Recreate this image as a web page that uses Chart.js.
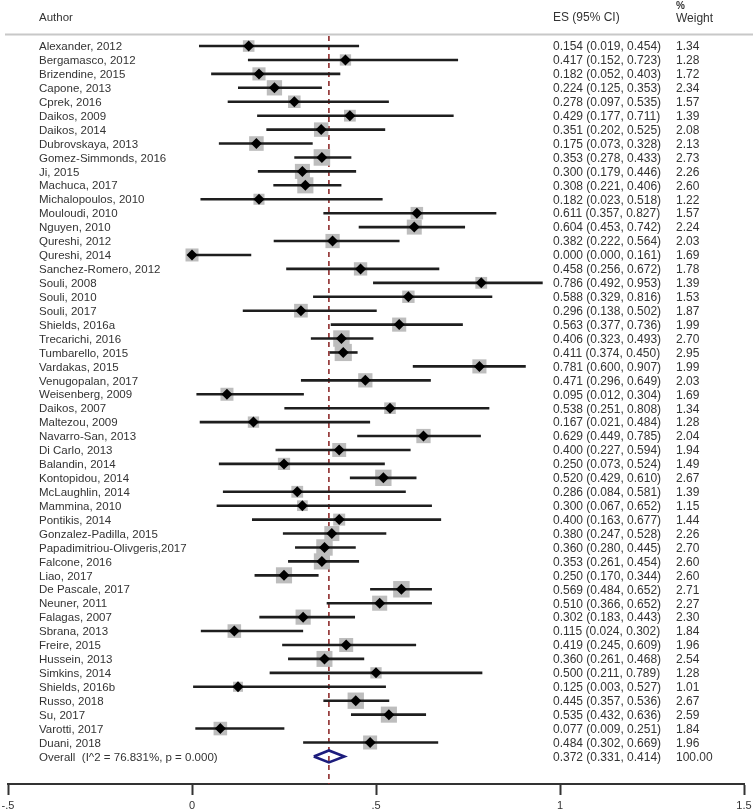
<!DOCTYPE html>
<html>
<head>
<meta charset="utf-8">
<script src="https://cdn.jsdelivr.net/npm/chart.js@4/dist/chart.umd.min.js"></script>
<style>
  html, body { margin: 0; padding: 0; background: #fff; }
  #wrap { width: 753px; height: 812px; position: relative; }
</style>
</head>
<body>
<div id="wrap"><canvas id="c" width="753" height="812"></canvas></div>
<script>
const authors = [
  "Alexander, 2012","Bergamasco, 2012","Brizendine, 2015","Capone, 2013","Cprek, 2016",
  "Daikos, 2009","Daikos, 2014","Dubrovskaya, 2013","Gomez-Simmonds, 2016","Ji, 2015",
  "Machuca, 2017","Michalopoulos, 2010","Mouloudi, 2010","Nguyen, 2010","Qureshi, 2012",
  "Qureshi, 2014","Sanchez-Romero, 2012","Souli, 2008","Souli, 2010","Souli, 2017",
  "Shields, 2016a","Trecarichi, 2016","Tumbarello, 2015","Vardakas, 2015","Venugopalan, 2017",
  "Weisenberg, 2009","Daikos, 2007","Maltezou, 2009","Navarro-San, 2013","Di Carlo, 2013",
  "Balandin, 2014","Kontopidou, 2014","McLaughlin, 2014","Mammina, 2010","Pontikis, 2014",
  "Gonzalez-Padilla, 2015","Papadimitriou-Olivgeris,2017","Falcone, 2016","Liao, 2017","De Pascale, 2017",
  "Neuner, 2011","Falagas, 2007","Sbrana, 2013","Freire, 2015","Hussein, 2013",
  "Simkins, 2014","Shields, 2016b","Russo, 2018","Su, 2017","Varotti, 2017",
  "Duani, 2018"
];
const es = [
  0.154,0.417,0.182,0.224,0.278,0.429,0.351,0.175,0.353,0.300,
  0.308,0.182,0.611,0.604,0.382,0.000,0.458,0.786,0.588,0.296,
  0.563,0.406,0.411,0.781,0.471,0.095,0.538,0.167,0.629,0.400,
  0.250,0.520,0.286,0.300,0.400,0.380,0.360,0.353,0.250,0.569,
  0.510,0.302,0.115,0.419,0.360,0.500,0.125,0.445,0.535,0.077,
  0.484
];
const ciLow = [
  0.019,0.152,0.052,0.125,0.097,0.177,0.202,0.073,0.278,0.179,
  0.221,0.023,0.357,0.453,0.222,0.000,0.256,0.492,0.329,0.138,
  0.377,0.323,0.374,0.600,0.296,0.012,0.251,0.021,0.449,0.227,
  0.073,0.429,0.084,0.067,0.163,0.247,0.280,0.261,0.170,0.484,
  0.366,0.183,0.024,0.245,0.261,0.211,0.003,0.357,0.432,0.009,
  0.302
];
const ciHigh = [
  0.454,0.723,0.403,0.353,0.535,0.711,0.525,0.328,0.433,0.446,
  0.406,0.518,0.827,0.742,0.564,0.161,0.672,0.953,0.816,0.502,
  0.736,0.493,0.450,0.907,0.649,0.304,0.808,0.484,0.785,0.594,
  0.524,0.610,0.581,0.652,0.677,0.528,0.445,0.454,0.344,0.652,
  0.652,0.443,0.302,0.609,0.468,0.789,0.527,0.536,0.636,0.251,
  0.669
];
const weights = [
  1.34,1.28,1.72,2.34,1.57,1.39,2.08,2.13,2.73,2.26,
  2.60,1.22,1.57,2.24,2.03,1.69,1.78,1.39,1.53,1.87,
  1.99,2.70,2.95,1.99,2.03,1.69,1.34,1.28,2.04,1.94,
  1.49,2.67,1.39,1.15,1.44,2.26,2.70,2.60,2.60,2.71,
  2.27,2.30,1.84,1.96,2.54,1.28,1.01,2.67,2.59,1.84,
  1.96
];
const overallLabel = "Overall  (I^2 = 76.831%, p = 0.000)";
const overallES = 0.372, overallLow = 0.331, overallHigh = 0.414, overallWeight = 100.00;
const tickValues = [-0.5, 0, 0.5, 1, 1.5];
const tickLabels = ["-.5", "0", ".5", "1", "1.5"];

// ---- layout constants ----
const Y_MIN = 0.28, Y_MAX = 53.98;
const overallRow = authors.length + 1;
const rows = authors.map((_, i) => i + 1);
const TEXT = '#333333';
const FONT = 'Liberation Sans, Arial, sans-serif';

const datasets = [];
// reference dashed line at the pooled estimate
datasets.push({
  type: 'line', data: [{x: overallES, y: Y_MIN}, {x: overallES, y: Y_MAX}],
  borderColor: '#8e2c2c', borderWidth: 1.6, borderDash: [5, 4], pointRadius: 0, order: 20
});
// weight squares
datasets.push({
  type: 'scatter',
  data: rows.map((r, i) => ({x: es[i], y: r})),
  pointStyle: 'rect',
  pointRadius: weights.map(w => 10 * Math.sqrt(w) / Math.SQRT2),
  backgroundColor: '#bdbdbd', borderWidth: 0, borderColor: 'rgba(0,0,0,0)', order: 12
});
// CI lines
rows.forEach((r, i) => {
  datasets.push({
    type: 'line', data: [{x: ciLow[i], y: r}, {x: ciHigh[i], y: r}],
    borderColor: '#1e1e1e', borderWidth: 2.6, pointRadius: 0, order: 8
  });
});
// point estimates
datasets.push({
  type: 'scatter',
  data: rows.map((r, i) => ({x: es[i], y: r})),
  pointStyle: 'rectRot', pointRadius: 5.5,
  backgroundColor: '#000', borderColor: '#000', borderWidth: 0, order: 4
});
// overall diamond
const dh = 0.43;
datasets.push({
  type: 'line',
  data: [
    {x: overallLow, y: overallRow}, {x: overallES, y: overallRow - dh},
    {x: overallHigh, y: overallRow}, {x: overallES, y: overallRow + dh},
    {x: overallLow, y: overallRow}
  ],
  borderColor: '#1c1c7c', borderWidth: 2.6, pointRadius: 0, fill: false, order: 2,
  borderJoinStyle: 'miter'
});

const fmt3 = v => v.toFixed(3);
const textPlugin = {
  id: 'forestText',
  beforeDraw(chart) {
    const ctx = chart.ctx;
    ctx.save();
    ctx.fillStyle = '#fff';
    ctx.fillRect(0, 0, chart.width, chart.height);
    ctx.restore();
  },
  afterDraw(chart) {
    const ctx = chart.ctx;
    const ys = chart.scales.y;
    ctx.save();
    ctx.fillStyle = TEXT;
    ctx.textBaseline = 'middle';
    ctx.textAlign = 'left';
    ctx.font = '11.5px ' + FONT;
    ctx.fillText('Author', 39, 18);
    ctx.font = '12px ' + FONT;
    ctx.fillText('ES (95% CI)', 553, 18);
    ctx.font = 'bold 10px ' + FONT;
    ctx.fillText('%', 676, 6);
    ctx.font = '12px ' + FONT;
    ctx.fillText('Weight', 676, 19);
    ctx.strokeStyle = '#c8c8c8';
    ctx.lineWidth = 2;
    ctx.beginPath();
    ctx.moveTo(5, 34.5); ctx.lineTo(753, 34.5);
    ctx.stroke();
    rows.forEach((r, i) => {
      const y = ys.getPixelForValue(r) + 1;
      ctx.font = '11.5px ' + FONT;
      ctx.fillText(authors[i], 39, y);
      ctx.font = '12px ' + FONT;
      ctx.fillText(fmt3(es[i]) + ' (' + fmt3(ciLow[i]) + ', ' + fmt3(ciHigh[i]) + ')', 553, y);
      ctx.fillText(weights[i].toFixed(2), 676, y);
    });
    const yo = ys.getPixelForValue(overallRow) + 1;
    ctx.font = '11.5px ' + FONT;
    ctx.fillText(overallLabel, 39, yo);
    ctx.font = '12px ' + FONT;
    ctx.fillText(fmt3(overallES) + ' (' + fmt3(overallLow) + ', ' + fmt3(overallHigh) + ')', 553, yo);
    ctx.fillText(overallWeight.toFixed(2), 676, yo);
    ctx.restore();
  }
};

new Chart(document.getElementById('c'), {
  type: 'scatter',
  data: { datasets },
  options: {
    responsive: false,
    animation: false,
    events: [],
    layout: { autoPadding: false, padding: { left: 8, right: 9, top: 36, bottom: 0 } },
    plugins: { legend: { display: false }, tooltip: { enabled: false } },
    scales: {
      x: {
        type: 'linear', min: -0.5, max: 1.5,
        afterBuildTicks: s => { s.ticks = tickValues.map(v => ({value: v})); },
        afterFit: s => { s.height = 28; },
        ticks: {
          callback: (v, i) => tickLabels[i],
          color: TEXT, font: { family: FONT, size: 11, lineHeight: 2 }, padding: 0, maxRotation: 0, autoSkip: false
        },
        grid: { drawOnChartArea: false, drawTicks: true, tickLength: 11, tickWidth: 2, tickColor: '#333' },
        border: { display: true, color: '#333', width: 2 }
      },
      y: { type: 'linear', display: false, min: Y_MIN, max: Y_MAX, reverse: true }
    }
  },
  plugins: [textPlugin]
});
</script>
</body>
</html>
